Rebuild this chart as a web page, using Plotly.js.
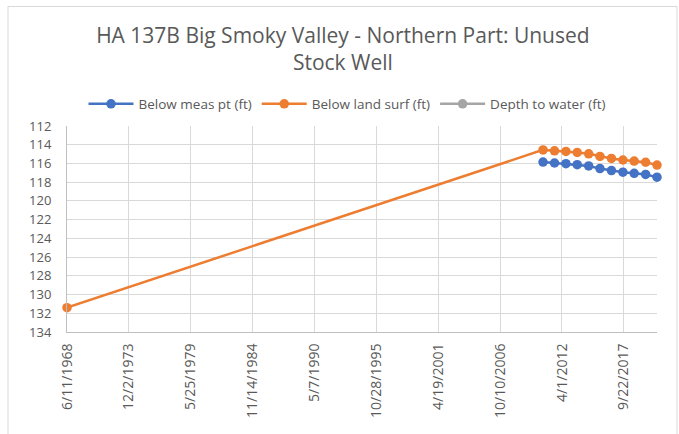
<!DOCTYPE html>
<html>
<head>
<meta charset="utf-8">
<script src="https://cdn.plot.ly/plotly-3.0.1.min.js"></script>
<style>
  html, body { margin: 0; padding: 0; background: #ffffff; }
  #chart { width: 679px; height: 434px; }
</style>
</head>
<body>
<div id="chart"></div>
<script>
// ---- data ----
const chartTitle = "HA 137B Big Smoky Valley - Northern Part: Unused<br>Stock Well";
const seriesNames = ["Below meas pt (ft)", "Below land surf (ft)", "Depth to water (ft)"];

const measDates = ["2010-07-28", "2011-08-03", "2012-08-07", "2013-08-06", "2014-08-12",
                   "2015-08-11", "2016-08-16", "2017-08-22", "2018-08-21", "2019-08-27", "2020-08-28"];
const belowMeasPt = [115.85, 115.95, 116.02, 116.13, 116.27, 116.55, 116.76, 116.93, 117.05, 117.17, 117.47];

const landDates = ["1968-06-11", "2010-07-28", "2011-08-03", "2012-08-07", "2013-08-06", "2014-08-12",
                   "2015-08-11", "2016-08-16", "2017-08-22", "2018-08-21", "2019-08-27", "2020-08-28"];
const belowLandSurf = [131.4, 114.55, 114.65, 114.72, 114.83, 114.97, 115.25, 115.46, 115.63, 115.75, 115.87, 116.17];

const depthDates = ["1968-06-11"];
const depthToWater = [null];

const xTickVals = ["1968-06-11", "1973-12-02", "1979-05-25", "1984-11-14", "1990-05-07",
                   "1995-10-28", "2001-04-19", "2006-10-10", "2012-04-01", "2017-09-22"];
const xTickText = ["6/11/1968", "12/2/1973", "5/25/1979", "11/14/1984", "5/7/1990",
                   "10/28/1995", "4/19/2001", "10/10/2006", "4/1/2012", "9/22/2017"];
const yTickVals = [112, 114, 116, 118, 120, 122, 124, 126, 128, 130, 132, 134];

// ---- chart ----
const FONT = "'Open Sans', 'Noto Sans', sans-serif";
const TXT = "#595959";

const traces = [
  { type: "scatter", mode: "lines+markers", name: seriesNames[0], x: measDates, y: belowMeasPt,
    cliponaxis: false,
    line: { color: "#4472C4", width: 2.5 }, marker: { color: "#4472C4", size: 9.5 } },
  { type: "scatter", mode: "lines+markers", name: seriesNames[1], x: landDates, y: belowLandSurf,
    connectgaps: true, cliponaxis: false,
    line: { color: "#ED7D31", width: 2.5 }, marker: { color: "#ED7D31", size: 9.5 } },
  { type: "scatter", mode: "lines+markers", name: seriesNames[2], x: depthDates, y: depthToWater,
    line: { color: "#A5A5A5", width: 2.5 }, marker: { color: "#A5A5A5", size: 9.5 } }
];

const layout = {
  width: 679, height: 434,
  margin: { l: 67, r: 22, t: 126, b: 102, autoexpand: false },
  paper_bgcolor: "#ffffff", plot_bgcolor: "#ffffff",
  font: { family: FONT, color: TXT, size: 12 },
  title: { text: chartTitle, font: { family: FONT, size: 21, color: TXT },
           x: 0.505, xref: "container", xanchor: "center",
           y: (434 - 43) / 434, yref: "container", yanchor: "middle" },
  showlegend: true,
  legend: { orientation: "h", x: (347 - 67) / 590, xref: "paper", xanchor: "center",
            y: 1 + 22 / 206, yref: "paper", yanchor: "middle", itemwidth: 45,
            font: { family: FONT, size: 13.5, color: TXT }, traceorder: "normal" },
  xaxis: {
    type: "date", range: ["1968-06-11", "2020-08-28"],
    tickmode: "array", tickvals: xTickVals, ticktext: xTickText, tickangle: -90,
    showgrid: true, gridcolor: "#d9d9d9", gridwidth: 1,
    showline: true, linecolor: "#bfbfbf", linewidth: 1,
    ticks: "", zeroline: false, automargin: false, ticklabelstandoff: 5,
    tickfont: { family: FONT, size: 14, color: TXT }
  },
  yaxis: {
    range: [134, 112], tickmode: "array", tickvals: yTickVals,
    showgrid: true, gridcolor: "#d9d9d9", gridwidth: 1,
    showline: true, linecolor: "#bfbfbf", linewidth: 1,
    ticks: "", zeroline: false, automargin: false, ticklabelstandoff: 12,
    tickfont: { family: FONT, size: 13, color: TXT }
  },
  shapes: [
    { type: "rect", xref: "paper", yref: "paper",
      x0: (8 - 67) / 590, x1: (677 - 67) / 590, y0: -0.6, y1: (332 - 6.5) / 206,
      line: { color: "#d9d9d9", width: 1 }, fillcolor: "rgba(0,0,0,0)", layer: "below" }
  ]
};

Plotly.newPlot("chart", traces, layout, { staticPlot: true, displayModeBar: false });
</script>
</body>
</html>
